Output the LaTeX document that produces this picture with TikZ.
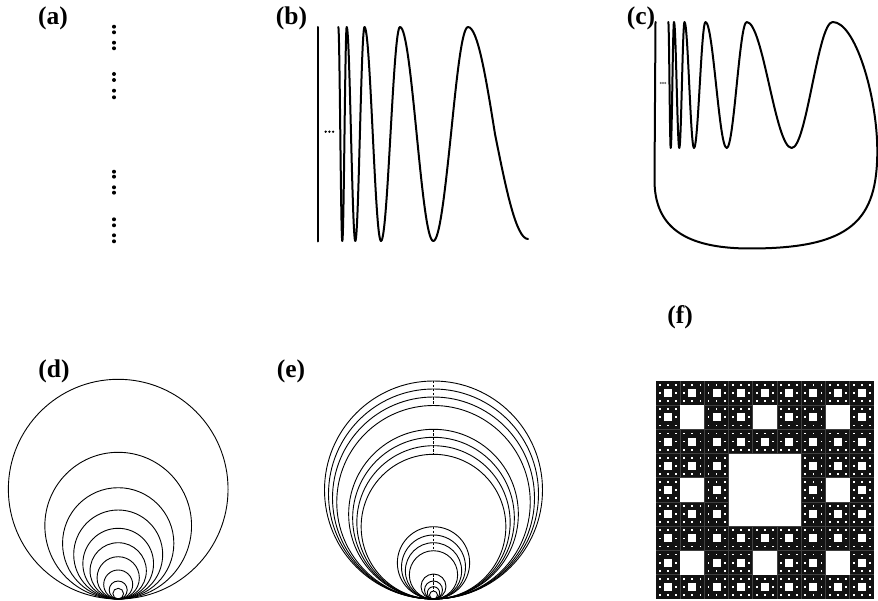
\documentclass[tikz,border=0pt]{standalone}
\usepackage{fontspec}
\setmainfont{Liberation Serif}
\begin{document}
\begin{tikzpicture}[x=1pt,y=-1pt,
  lbl/.style={inner sep=0pt,font=\bfseries\fontsize{25.5}{30}\selectfont},
  curve/.style={line width=2pt,line join=round,line cap=round},
  ring/.style={line width=0.9pt},
  tick/.style={line width=0.7pt,dash pattern=on 2.5pt off 1.5pt},
  pt/.style={fill=black}]
\useasboundingbox (0,0) rectangle (878,601);

% panel labels
\node[lbl] (la) at (53,18.5) {(a)};
\node[lbl] (lb) at (291.5,18.5) {(b)};
\node[lbl] (lc) at (641,18.5) {(c)};
\node[lbl] (ld) at (54,371) {(d)};
\node[lbl] (le) at (291,371) {(e)};
\node[lbl] (lf) at (680,317) {(f)};

% (a) Cantor-type set of points
\foreach \y in {26.7,32.3,42.7,48.3,74,80,90.7,97.3,171.7,176.7,187.3,192.7,219.3,225.3,235.3,241.3}
  \fill[pt] (114,\y) circle[radius=2pt];

% (b) topologist's sine curve
\draw[curve] (318,27) -- (318,241.5);
\foreach \x in {325.7,329.4,333.1} \fill[pt] (\x,131.7) circle[radius=1.3pt];
\draw[curve] (338.3,27) cos (340.3,134) sin (342.3,241) cos (344.5,134) sin (346.7,27)
  cos (351,134) sin (355.3,241) cos (359.9,134) sin (364.5,27)
  cos (372.75,134) sin (381,241) cos (390.5,134) sin (400,27)
  cos (416.65,134) sin (433.3,241) cos (451,134) sin (468,27)
  cos (495,134) sin (528,239);

% (c) Warsaw circle
\foreach \x in {660.7,663,665.3} \fill[black!60] (\x,83) circle[radius=1.1pt];
\draw[curve] (655.5,22) -- (654.5,180)
  .. controls (654.5,225) and (682,248.5) .. (750,248.5)
  .. controls (852,248.5) and (877.5,220) .. (877.3,150)
  .. controls (877,95) and (855,22) .. (832.7,22)
  cos (812.2,85) sin (791.7,148) cos (769.2,85) sin (746.7,22)
  cos (736.7,85) sin (726.7,148) cos (716.1,85) sin (705.5,22)
  cos (699.75,85) sin (694,148) cos (689.25,85) sin (684.5,22)
  cos (681.9,85) sin (679.3,148) cos (676.65,85) sin (674,22)
  cos (672.35,85) sin (670.7,148) cos (669.5,85) sin (668.3,22);

% (d) circles tangent at one point
\foreach \d in {219.7,146.7,111.3,89,70.7,56.3,42.3,29,18,10.7}
  \draw[ring] (118.2,599-\d/2) circle[radius=\d/2*1pt];

% (e) groups of tangent circles
\foreach \d in {218,210,202,193.5,169.7,161.7,153.3,144.7,72.3,64,56.3,48.3,25,18,12.3,8}
  \draw[ring] (433.5,599-\d/2) circle[radius=\d/2*1pt];
\foreach \a/\b in {218/193.5,169.7/144.7,72.3/48.3,25/8}
  \draw[tick] (433.8,599-\a) -- (433.8,599-\b);

% (f) Sierpinski carpet
\def\S{218}
\fill[black!93] (656,381) rectangle ++(\S,\S);
\foreach \k in {1,...,8} {
  \draw[black!75,line width=0.8pt] ({656+\k*\S/9},381) -- ++(0,\S);
  \draw[black!75,line width=0.8pt] (656,{381+\k*\S/9}) -- ++(\S,0);
}
\foreach \m in {1,3,9} {
  \pgfmathsetmacro\c{\S/\m}
  \foreach \i in {1,...,\m}
    \foreach \j in {1,...,\m}
      \fill[white] ({656+(\i-1)*\c+\c/3},{381+(\j-1)*\c+\c/3}) rectangle ++(\c/3,\c/3);
}
% smallest holes, drawn as small dots
\pgfmathsetmacro\c{\S/27}
\foreach \i in {1,...,27}
  \foreach \j in {1,...,27}
    \fill[white] ({656+(\i-0.5)*\c-0.9},{381+(\j-0.5)*\c-0.9}) rectangle ++(1.8,1.8);
\end{tikzpicture}
\end{document}
